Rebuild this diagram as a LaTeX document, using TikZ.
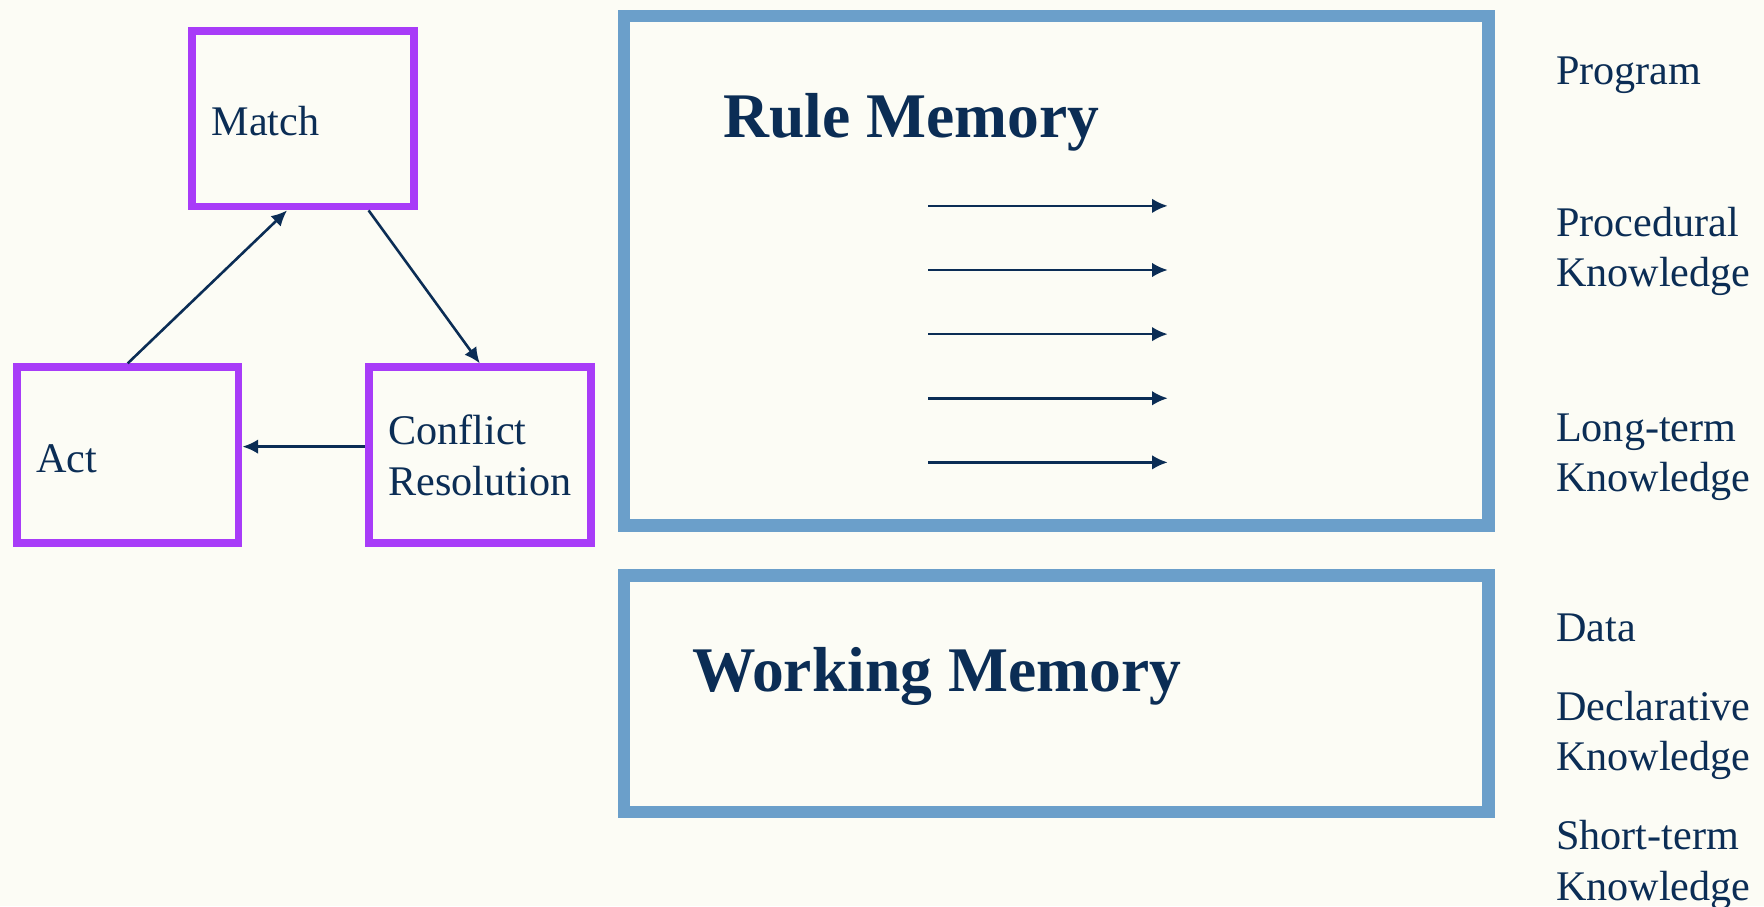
\documentclass[tikz,border=0pt]{standalone}
\usepackage{fontspec}
\setmainfont{Liberation Serif}
\usetikzlibrary{arrows.meta,calc}
\definecolor{bg}{HTML}{FCFCF5}
\definecolor{navy}{HTML}{0B2D55}
\definecolor{purp}{HTML}{A83CF8}
\definecolor{steel}{HTML}{6B9FCA}
\begin{document}
\begin{tikzpicture}[x=1pt,y=-1pt,
  pbox/.style={draw=purp,line width=7pt,inner sep=0pt,outer sep=3.5pt,minimum width=197pt,minimum height=156pt},
  mbox/.style={draw=steel,line width=11pt,inner sep=0pt,outer sep=5.5pt},
  lbl/.style={text=navy,font=\fontsize{37.5}{45}\selectfont,inner sep=0pt,anchor=base west},
  title/.style={text=navy,font=\fontsize{56.5}{66}\selectfont\bfseries,inner sep=0pt,anchor=base west},
  arr/.style={draw=navy,line width=2.3pt,-{Latex[length=14pt,width=13pt]}}]
\fill[bg] (0,0) rectangle (1568,805.4);
\useasboundingbox (0,0) rectangle (1568,805.4);
% cycle boxes
\node[pbox] (match) at (269.5,105.5) {};
\node[pbox] (act) at (113.5,404.5) {};
\node[pbox] (cr) at (426.5,404.5) {};
\node[lbl] (tmatch) at (188,120) {Match};
\node[lbl] (tact) at (32,420) {Act};
\node[lbl] (tcr1) at (345,395) {Conflict};
\node[lbl] (tcr2) at (345,440) {Resolution};
\draw[arr] (act.north) -- ($(match.south west)!0.43!(match.south east)$);
\draw[arr] ($(match.south west)!0.785!(match.south east)$) -- (cr.north);
\draw[arr] ($(cr.west)+(0,-7.5)$) -- ($(act.east)+(0,-7.5)$);
% memory boxes
\node[mbox,minimum width=768.5pt,minimum height=452.5pt] (rule) at (938.75,240.75) {};
\node[mbox,minimum width=768.5pt,minimum height=210pt] (work) at (938.75,616.5) {};
\node[title] (trule) at (643,122) {Rule Memory};
\node[title] (twork) at (615,615) {Working Memory};
\foreach \i/\y in {1/183,2/240,3/297,4/354,5/411}{
  \coordinate (s\i) at (825,\y);
  \coordinate (e\i) at (1038,\y);
  \draw[arr] (s\i) -- (e\i);
}
% right labels
\node[lbl] (l1) at (1383,75) {Program};
\node[lbl] (l2a) at (1383,210) {Procedural};
\node[lbl] (l2b) at (1383,255) {Knowledge};
\node[lbl] (l3a) at (1383,392) {Long-term};
\node[lbl] (l3b) at (1383,437) {Knowledge};
\node[lbl] (l4) at (1383,570) {Data};
\node[lbl] (l5a) at (1383,640) {Declarative};
\node[lbl] (l5b) at (1383,685) {Knowledge};
\node[lbl] (l6a) at (1383,755) {Short-term};
\node[lbl] (l6b) at (1383,800) {Knowledge};
\end{tikzpicture}
\end{document}
